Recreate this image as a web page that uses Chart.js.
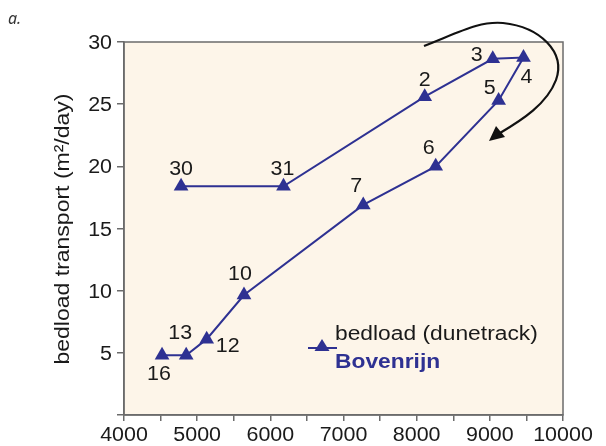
<!DOCTYPE html>
<html>
<head>
<meta charset="utf-8">
<script src="https://cdn.jsdelivr.net/npm/chart.js@4/dist/chart.umd.min.js"></script>
<style>
  html, body { margin: 0; padding: 0; background: #ffffff; }
  #wrap { width: 606px; height: 446px; }
</style>
</head>
<body>
<div id="wrap"><canvas id="c" width="606" height="446"></canvas></div>
<script>
// Bedload transport measured with dunetracking, Bovenrijn, in the order of the survey dates
const dayLabels   = ['30', '31', '2', '3', '4', '5', '6', '7', '10', '12', '13', '16'];
const discharge   = [4780, 6180, 8110, 9040, 9460, 9120, 8260, 7270, 5640, 5130, 4850, 4520];
const bedload     = [18.4, 18.4, 25.6, 28.65, 28.75, 25.3, 20.0, 16.9, 9.65, 6.1, 4.8, 4.8];
const xTickValues = [4000, 5000, 6000, 7000, 8000, 9000, 10000];
const yTickValues = [5, 10, 15, 20, 25, 30];

// placement of each day label relative to its marker (px)
const labelOffsets = [
  [0, -18], [-1, -18], [0, -18], [-16, -5], [3, 18], [-9, -13],
  [-7, -19], [-7, -20], [-4, -22], [21, 6], [-6, -23], [-3, 18]
];

const BLUE = '#2e3192';
const AXIS = '#6b6b6b';
const INK = '#1a1a1a';
const FONT = '"Liberation Sans", Arial, Helvetica, sans-serif';

const points = discharge.map((x, i) => ({ x: x, y: bedload[i] }));

// text drawn slightly wide, like the Helvetica set used in the figure
function wideText(ctx, text, x, y, font, sx, align, baseline) {
  ctx.save();
  ctx.font = font;
  ctx.textAlign = align;
  ctx.textBaseline = baseline;
  ctx.translate(x, y);
  ctx.scale(sx, 1);
  ctx.fillText(text, 0, 0);
  ctx.restore();
}

const decorations = {
  id: 'decorations',
  beforeDraw(chart) {
    const { ctx, chartArea: a } = chart;
    ctx.save();
    ctx.fillStyle = '#fdf5e9';
    ctx.fillRect(a.left, a.top, a.right - a.left, a.bottom - a.top);
    ctx.restore();
  },
  afterDatasetsDraw(chart) {
    const { ctx, chartArea: a } = chart;
    const xs = chart.scales.x, ys = chart.scales.y;
    ctx.save();

    // frame
    ctx.strokeStyle = AXIS;
    ctx.lineWidth = 1.5;
    ctx.strokeRect(a.left, a.top, a.right - a.left, a.bottom - a.top);

    // tick labels
    ctx.fillStyle = INK;
    const tickFont = '19.5px ' + FONT;
    xTickValues.forEach(v => {
      wideText(ctx, String(v), xs.getPixelForValue(v), 441, tickFont, 1.1, 'center', 'alphabetic');
    });
    yTickValues.forEach(v => {
      wideText(ctx, String(v), 112, ys.getPixelForValue(v) + 7, tickFont, 1.1, 'right', 'alphabetic');
    });

    // day labels
    dayLabels.forEach((t, i) => {
      const px = xs.getPixelForValue(discharge[i]);
      const py = ys.getPixelForValue(bedload[i]);
      wideText(ctx, t, px + labelOffsets[i][0], py + labelOffsets[i][1] + 7, tickFont, 1.1, 'center', 'alphabetic');
    });

    // legend
    ctx.strokeStyle = BLUE;
    ctx.lineWidth = 2;
    ctx.beginPath();
    ctx.moveTo(308, 348);
    ctx.lineTo(337, 348);
    ctx.stroke();
    ctx.fillStyle = BLUE;
    ctx.beginPath();
    ctx.moveTo(322, 339);
    ctx.lineTo(329.5, 351);
    ctx.lineTo(314.5, 351);
    ctx.closePath();
    ctx.fill();
    ctx.fillStyle = INK;
    wideText(ctx, 'bedload (dunetrack)', 335, 340, '20px ' + FONT, 1.14, 'left', 'alphabetic');
    ctx.fillStyle = BLUE;
    wideText(ctx, 'Bovenrijn', 335, 368, 'bold 20px ' + FONT, 1.14, 'left', 'alphabetic');

    // y axis title
    ctx.save();
    ctx.translate(63, 229);
    ctx.rotate(-Math.PI / 2);
    ctx.fillStyle = INK;
    wideText(ctx, 'bedload transport (m\u00b2/day)', 0, 0, '20px ' + FONT, 1.15, 'center', 'middle');
    ctx.restore();

    // panel letter
    ctx.fillStyle = '#333333';
    ctx.font = 'italic 16px "Noto Sans", ' + FONT;
    ctx.textAlign = 'left';
    ctx.textBaseline = 'alphabetic';
    ctx.fillText('a.', 8, 24);

    // hysteresis arrow
    ctx.strokeStyle = '#111111';
    ctx.lineWidth = 2.2;
    ctx.beginPath();
    ctx.moveTo(424, 46);
    ctx.bezierCurveTo(462, 31, 480, 21, 503, 23);
    ctx.bezierCurveTo(540, 27, 566, 52, 556, 80);
    ctx.bezierCurveTo(547, 104, 522, 120, 500, 133);
    ctx.stroke();
    ctx.fillStyle = '#111111';
    ctx.beginPath();
    ctx.moveTo(489, 141);
    ctx.lineTo(496, 126);
    ctx.lineTo(505, 137);
    ctx.closePath();
    ctx.fill();

    ctx.restore();
  }
};

new Chart(document.getElementById('c'), {
  type: 'scatter',
  data: {
    datasets: [{
      data: points,
      showLine: true,
      borderColor: BLUE,
      borderWidth: 2,
      backgroundColor: BLUE,
      pointStyle: 'triangle',
      pointRadius: 8.5,
      pointBorderWidth: 0,
      pointBackgroundColor: BLUE,
      clip: false
    }]
  },
  options: {
    responsive: false,
    animation: false,
    events: [],
    layout: { padding: { top: 42, right: 43, left: 0, bottom: 0 } },
    plugins: { legend: { display: false }, tooltip: { enabled: false } },
    scales: {
      x: {
        type: 'linear',
        min: 4000,
        max: 10000,
        afterBuildTicks(scale) {
          const t = [];
          for (let v = 4000; v <= 10000; v += 500) t.push({ value: v });
          scale.ticks = t;
        },
        afterFit(scale) { scale.height = 31; },
        ticks: { display: false, autoSkip: false },
        grid: { drawOnChartArea: false, drawTicks: true, tickLength: 6, color: AXIS, lineWidth: 1.5 },
        border: { color: AXIS, width: 1.5 }
      },
      y: {
        type: 'linear',
        min: 0,
        max: 30,
        afterBuildTicks(scale) {
          scale.ticks = [0].concat(yTickValues).map(v => ({ value: v }));
        },
        afterFit(scale) { scale.width = 124; },
        ticks: { display: false },
        grid: { drawOnChartArea: false, drawTicks: true, tickLength: 7, color: AXIS, lineWidth: 1.5 },
        border: { color: AXIS, width: 1.5 }
      }
    }
  },
  plugins: [decorations]
});
</script>
</body>
</html>
